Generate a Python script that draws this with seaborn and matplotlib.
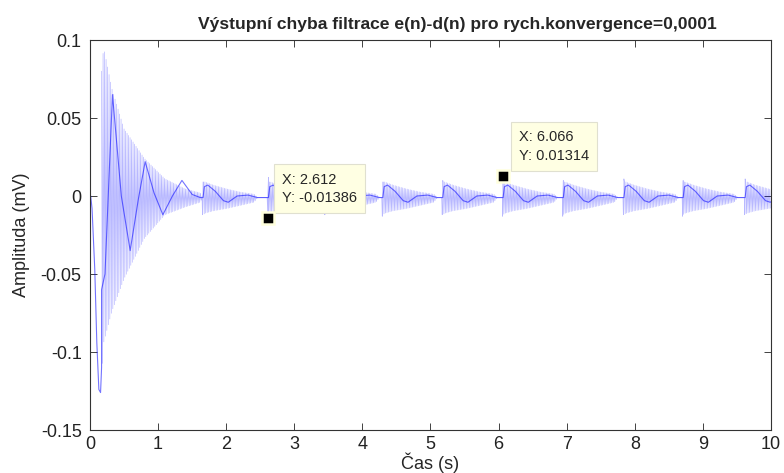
import numpy as np
import pandas as pd
import seaborn as sns
import matplotlib.pyplot as plt

# thin trace before the first beat
lead_t = [0.0, 0.01, 0.03, 0.07, 0.10, 0.13, 0.155, 0.17]
lead_v = [0.0, 0.0, -0.008, -0.047, -0.094, -0.124, -0.126, -0.11]

# first (large) burst: upper/lower envelope + slow mid curve
first_t = [0.17, 0.20, 0.32, 0.50, 0.80, 1.10, 1.40, 1.62]
first_hi = [0.080, 0.0955, 0.069, 0.043, 0.024, 0.011, 0.0045, 0.002]
first_lo = [-0.115, -0.094, -0.074, -0.053, -0.027, -0.012, -0.007, -0.004]
first_mid_t = [0.17, 0.22, 0.33, 0.46, 0.59, 0.71, 0.81, 0.94, 1.07, 1.21, 1.35, 1.50, 1.62]
first_mid = [-0.060, -0.050, 0.065, 0.0, -0.035, -0.002, 0.022, 0.002, -0.012, 0.0, 0.010, 0.001, -0.001]

# later beats: onset time, spike top, spike bottom
beat_t = [1.66, 2.62, 3.45, 4.30, 5.18, 6.066, 6.95, 7.84, 8.71, 9.62]
beat_hi = [0.009, 0.012, 0.011, 0.009, 0.010, 0.01314, 0.010, 0.011, 0.010, 0.011]
beat_lo = [-0.012, -0.01386, -0.012, -0.013, -0.012, -0.013, -0.013, -0.012, -0.013, -0.012]

# shape of one small burst after its onset
burst_t = [0.0, 0.03, 0.15, 0.35, 0.55, 0.75]
burst_hi = [0.009, 0.009, 0.007, 0.0045, 0.0025, 0.0012]
burst_lo = [-0.012, -0.011, -0.0095, -0.008, -0.006, -0.004]
burst_mid_t = [0.0, 0.02, 0.07, 0.18, 0.30, 0.37, 0.50, 0.66, 0.80]
burst_mid = [-0.001, 0.006, 0.007, 0.003, -0.003, -0.004, 0.0, 0.0006, -0.001]
base = -0.001

# data tips
tip_x = [2.612, 6.066]
tip_y = [-0.01386, 0.01314]
tip_text = ["X: 2.612\nY: -0.01386", "X: 6.066\nY: 0.01314"]
tip_pos = [(2.82, 0.0045), (6.30, 0.032)]

# envelope knots for all bursts
env_t, env_hi, env_lo = list(first_t), list(first_hi), list(first_lo)
mid_t, mid_v = list(lead_t) + list(first_mid_t), list(lead_v) + list(first_mid)
for T in beat_t:
    env_t += [T - 0.01] + [T + r for r in burst_t] + [T + 0.8]
    env_hi += [base] + burst_hi + [base]
    env_lo += [base] + burst_lo + [base]
    mid_t += [T + r for r in burst_mid_t]
    mid_v += burst_mid

# fast oscillation of the error signal between the envelopes
grid = np.arange(0.17, 10.0, 0.011)
hi = np.interp(grid, env_t, env_hi)
lo = np.interp(grid, env_t, env_lo)
zig = np.where(np.arange(len(grid)) % 2 == 0, hi, lo)
# spikes at each beat onset
sp_t = [T - 0.008 for T in beat_t] + beat_t
sp_v = beat_lo + beat_hi
fast = pd.DataFrame({"t": np.r_[grid, sp_t], "v": np.r_[zig, sp_v]}).sort_values("t")
slow = pd.DataFrame({"t": mid_t, "v": mid_v})

sns.set_style("ticks")
plt.rcParams["font.family"] = ["Liberation Sans", "DejaVu Sans"]
plt.rcParams["xtick.direction"] = "in"
plt.rcParams["ytick.direction"] = "in"

fig = plt.figure(figsize=(7.84, 4.73), dpi=100)
ax = fig.add_axes([0.1148, 0.0909, 0.8686, 0.8245])

sns.lineplot(data=fast, x="t", y="v", estimator=None, sort=False, color="blue",
             lw=0.5, alpha=0.28, ax=ax)
sns.lineplot(data=slow, x="t", y="v", estimator=None, sort=False, color="blue",
             lw=0.8, alpha=0.55, ax=ax)

ax.set_xlim(0, 10)
ax.set_ylim(-0.15, 0.1)
ax.set_xticks(range(0, 11))
ax.set_yticks([-0.15, -0.1, -0.05, 0, 0.05, 0.1])
ax.set_yticklabels(["-0.15", "-0.1", "-0.05", "0", "0.05", "0.1"])
ax.tick_params(labelsize=13, length=5, width=0.6, top=True, right=True, colors="#222222")
ax.tick_params(axis="x", pad=4)
ax.tick_params(axis="y", pad=6)
for s in ax.spines.values():
    s.set_visible(True)
    s.set_linewidth(0.8)
    s.set_color("#333333")

ax.set_title("Výstupní chyba filtrace e(n)-d(n) pro rych.konvergence=0,0001",
             fontsize=12.6, fontweight="bold", x=0.539, pad=8)
ax.set_xlabel("Čas (s)", fontsize=13)
ax.set_ylabel("Amplituda (mV)", fontsize=13)
ax.xaxis.set_label_coords(0.5, -0.085)
ax.xaxis.label.set_va("center")
ax.yaxis.set_label_coords(-0.1, 0.5)
ax.yaxis.label.set_va("center")

for (px, py), txt in zip(tip_pos, tip_text):
    ax.text(px, py, txt, fontsize=10.5, family=["Liberation Sans", "DejaVu Sans"],
            ha="left", va="center", linespacing=1.45, zorder=5,
            bbox=dict(boxstyle="square,pad=0.55", fc="#ffffe3", ec="#e0e0d0", lw=0.8))
ax.plot(tip_x, tip_y, "s", ms=8, mfc="black", mec="#ffffdd", mew=1.8, zorder=6)

fig.savefig("out.png", dpi=100)
